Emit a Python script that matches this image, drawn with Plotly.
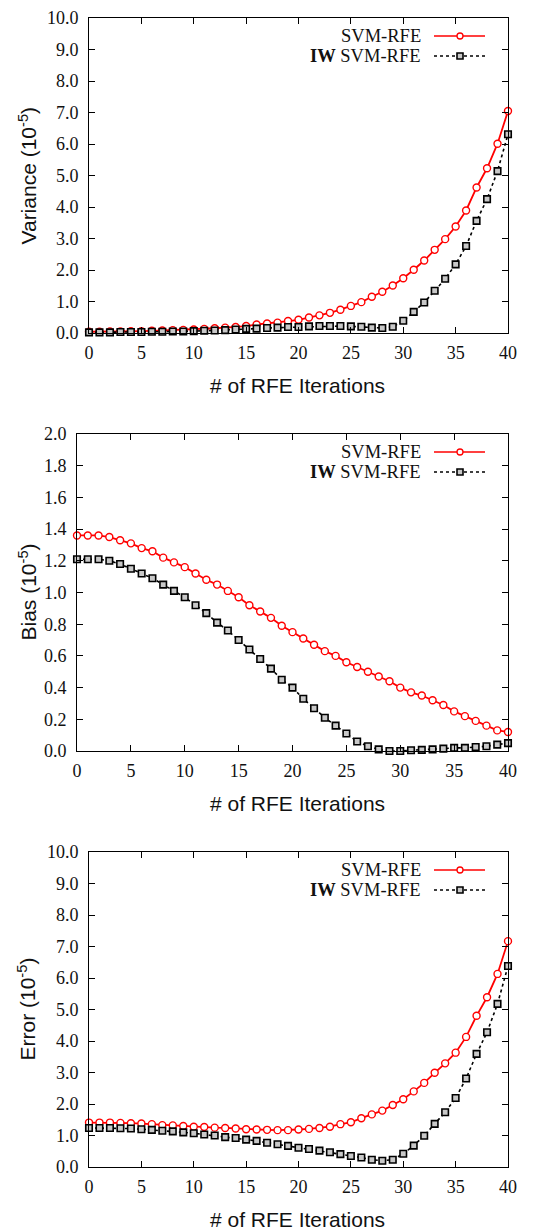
import plotly.graph_objects as go

# ---- data -------------------------------------------------------------
iterations = list(range(41))

variance_svm = [0.04, 0.04, 0.05, 0.05, 0.06, 0.06, 0.07, 0.08, 0.09, 0.10,
                0.11, 0.13, 0.15, 0.17, 0.19, 0.22, 0.27, 0.30, 0.33, 0.38,
                0.42, 0.49, 0.56, 0.64, 0.74, 0.86, 0.98, 1.15, 1.31, 1.51,
                1.74, 2.01, 2.30, 2.64, 2.98, 3.38, 3.89, 4.62, 5.23, 6.01,
                7.05]
variance_iw = [0.02, 0.02, 0.02, 0.03, 0.03, 0.03, 0.04, 0.04, 0.05, 0.05,
               0.06, 0.07, 0.08, 0.09, 0.11, 0.13, 0.14, 0.16, 0.17, 0.19,
               0.19, 0.21, 0.22, 0.22, 0.22, 0.21, 0.20, 0.17, 0.16, 0.20,
               0.39, 0.67, 0.97, 1.34, 1.72, 2.18, 2.76, 3.56, 4.25, 5.14,
               6.31]

bias_svm = [1.36, 1.36, 1.36, 1.35, 1.33, 1.31, 1.28, 1.26, 1.22, 1.19,
            1.16, 1.12, 1.08, 1.05, 1.01, 0.97, 0.92, 0.88, 0.84, 0.79,
            0.75, 0.71, 0.67, 0.63, 0.60, 0.56, 0.53, 0.50, 0.47, 0.44,
            0.40, 0.37, 0.35, 0.32, 0.29, 0.25, 0.22, 0.19, 0.16, 0.13,
            0.12]
bias_iw = [1.21, 1.21, 1.21, 1.20, 1.18, 1.15, 1.12, 1.09, 1.05, 1.01,
           0.97, 0.92, 0.87, 0.81, 0.76, 0.70, 0.64, 0.58, 0.52, 0.45,
           0.40, 0.33, 0.27, 0.21, 0.16, 0.11, 0.06, 0.03, 0.01, 0.00,
           0.00, 0.005, 0.007, 0.01, 0.015, 0.02, 0.02, 0.025, 0.03, 0.04,
           0.05]

error_svm = [1.41, 1.41, 1.41, 1.40, 1.39, 1.38, 1.36, 1.33, 1.32, 1.30,
             1.28, 1.27, 1.25, 1.24, 1.22, 1.20, 1.19, 1.18, 1.17, 1.17,
             1.19, 1.21, 1.24, 1.28, 1.36, 1.42, 1.55, 1.67, 1.79, 1.97,
             2.15, 2.40, 2.67, 2.99, 3.29, 3.63, 4.13, 4.80, 5.39, 6.13,
             7.17]
error_iw = [1.24, 1.24, 1.24, 1.23, 1.22, 1.20, 1.18, 1.15, 1.13, 1.10,
            1.07, 1.03, 1.00, 0.95, 0.92, 0.87, 0.83, 0.77, 0.72, 0.67,
            0.61, 0.57, 0.52, 0.47, 0.41, 0.35, 0.30, 0.23, 0.20, 0.23,
            0.42, 0.68, 0.99, 1.37, 1.74, 2.19, 2.81, 3.59, 4.28, 5.18,
            6.38]

series_names = ["SVM-RFE", "<b>IW</b> SVM-RFE"]
y_titles = ["Variance (10<sup>-5</sup>)", "Bias (10<sup>-5</sup>)",
            "Error (10<sup>-5</sup>)"]
x_title = "# of RFE Iterations"
x_ticks = [0, 5, 10, 15, 20, 25, 30, 35, 40]
y_ticks_big = [0, 1, 2, 3, 4, 5, 6, 7, 8, 9, 10]
y_ticks_bias = [0.0, 0.2, 0.4, 0.6, 0.8, 1.0, 1.2, 1.4, 1.6, 1.8, 2.0]

# ---- layout geometry (pixels) ----------------------------------------
W, H = 548, 1230
panels = [
    dict(left=89, right=508, top=18, bottom=333, ymax=10, ticks=y_ticks_big,
         svm=variance_svm, iw=variance_iw),
    dict(left=77, right=508, top=434, bottom=751, ymax=2, ticks=y_ticks_bias,
         svm=bias_svm, iw=bias_iw),
    dict(left=89, right=508, top=852, bottom=1167, ymax=10, ticks=y_ticks_big,
         svm=error_svm, iw=error_iw),
]

RED = "#ff0000"
BLACK = "#000000"
serif = "Liberation Serif"
sans = "Liberation Sans"

fig = go.Figure()
layout = dict(
    template="none",
    width=W, height=H, margin=dict(l=0, r=0, t=0, b=0, pad=0),
    paper_bgcolor="white", plot_bgcolor="white", showlegend=False,
    annotations=[], shapes=[],
)

def px_x(p):
    return p / W

def px_y(p):
    return 1 - p / H

for i, p in enumerate(panels):
    n = "" if i == 0 else str(i + 1)
    xa, ya = "x" + n, "y" + n
    fig.add_trace(go.Scatter(
        x=iterations, y=p["svm"], xaxis=xa, yaxis=ya, mode="lines+markers",
        line=dict(color=RED, width=1.8),
        marker=dict(symbol="circle", size=7, color="white",
                    line=dict(color=RED, width=1.4)),
        cliponaxis=False, name=series_names[0]))
    fig.add_trace(go.Scatter(
        x=iterations, y=p["iw"], xaxis=xa, yaxis=ya, mode="lines+markers",
        line=dict(color=BLACK, width=1.6, dash="dot"),
        marker=dict(symbol="square", size=6.5, color="#c8c8c8",
                    line=dict(color=BLACK, width=1.6)),
        cliponaxis=False, name=series_names[1]))

    axis_common = dict(showline=True, linecolor=BLACK, linewidth=1,
                       mirror="ticks", ticks="inside", ticklen=6,
                       tickcolor=BLACK, tickwidth=1, showgrid=False,
                       zeroline=False, automargin=False,
                       tickfont=dict(family=serif, size=18, color="#111"))
    layout["xaxis" + n] = dict(
        axis_common, domain=[px_x(p["left"]), px_x(p["right"])],
        range=[0, 40], tickvals=x_ticks, anchor=ya, ticklabelstandoff=3)
    layout["yaxis" + n] = dict(
        axis_common, domain=[px_y(p["bottom"]), px_y(p["top"])],
        range=[0, p["ymax"]], tickvals=p["ticks"], tickformat=".1f",
        anchor=xa, ticklabelstandoff=6)

    # axis titles
    layout["annotations"].append(dict(
        text=x_title, xref="paper", yref="paper",
        x=px_x(298), y=px_y(p["bottom"] + 52), xanchor="center",
        yanchor="middle", showarrow=False,
        font=dict(family=sans, size=21, color="#111")))
    layout["annotations"].append(dict(
        text=y_titles[i], xref="paper", yref="paper",
        x=px_x(27), y=px_y((p["top"] + p["bottom"]) / 2), textangle=-90,
        xanchor="center", yanchor="middle", showarrow=False,
        font=dict(family=sans, size=21, color="#111")))

    # key in the upper-right corner: label, then line sample with marker
    for k, (name, color, dash) in enumerate(
            [(series_names[0], RED, "solid"), (series_names[1], BLACK, "dot")]):
        row_y = p["top"] + 18 + 20 * k
        layout["annotations"].append(dict(
            text=name, xref="paper", yref="paper", x=px_x(423),
            y=px_y(row_y), xanchor="right", yanchor="middle",
            showarrow=False, font=dict(family=serif, size=18.5, color="#111")))
        layout["shapes"].append(dict(
            type="line", xref="paper", yref="paper",
            x0=px_x(434), x1=px_x(485), y0=px_y(row_y), y1=px_y(row_y),
            line=dict(color=color, width=1.7, dash=dash)))
        if k == 0:
            layout["shapes"].append(dict(
                type="circle", xref="paper", yref="paper",
                xsizemode="pixel", ysizemode="pixel",
                xanchor=px_x(460), yanchor=px_y(row_y),
                x0=-3, x1=3, y0=-3, y1=3,
                fillcolor="white", line=dict(color=RED, width=1.3)))
        else:
            layout["shapes"].append(dict(
                type="rect", xref="paper", yref="paper",
                xsizemode="pixel", ysizemode="pixel",
                xanchor=px_x(460), yanchor=px_y(row_y),
                x0=-3, x1=3, y0=-3, y1=3,
                fillcolor="#c8c8c8", line=dict(color=BLACK, width=1.6)))

fig.update_layout(**layout)
fig.write_html("out.html")
